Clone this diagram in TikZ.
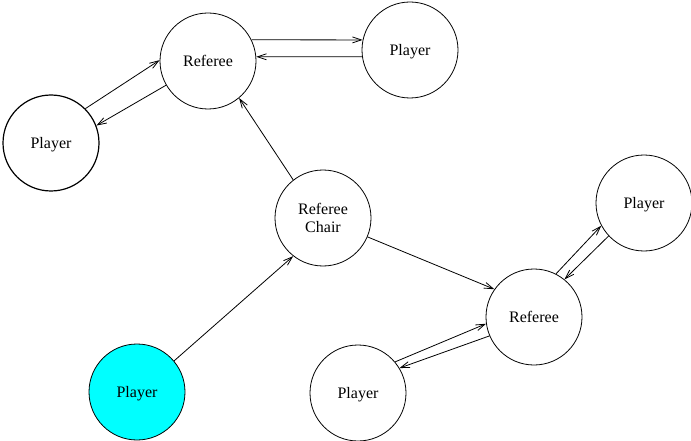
\documentclass[tikz,border=0pt]{standalone}
\usepackage{fontspec}
\setmainfont{Liberation Serif}
\usetikzlibrary{arrows.meta}

\definecolor{aqua}{RGB}{0,255,255}
\tikzset{
    party/.style = {draw, circle, minimum size = 96pt, inner sep = 0pt, align = center,
                    line width = 0.8pt, text depth = 0pt, font = \fontsize{16}{18}\selectfont},
    msg/.style = {line width = 0.8pt, -{Straight Barb[length = 9pt, width = 6pt]}}
}

\begin{document}
\begin{tikzpicture}[x = 1pt, y = -1pt]
        \useasboundingbox (0,0) rectangle (691,441);
        % the parties
        \node[party] (ref1) at (208,61) {Referee};
        \node[party] (ply1) at (410,50) {Player};
        \node[party, line width = 1.2pt] (ply2) at (51,143) {Player};
        \node[party] (chair) at (323,218) {Referee\\Chair};
        \node[party] (ply3) at (644,203) {Player};
        \node[party] (ref2) at (534,317) {Referee};
        \node[party] (ply4) at (358,393) {Player};
        \node[party, fill = aqua] (ply5) at (137,392) {Player};
        % messages
        \begin{scope}[every path/.append style = {msg}]
            \draw (ref1.26) -- (ply1.168);
            \draw (ply1.188) -- (ref1.5);
            \draw (ply2.45) -- (ref1.179);
            \draw (ref1.210) -- (ply2.21);
            \draw (chair.128) -- (ref1.310);
            \draw (ply5.40) -- (chair.232);
            \draw (chair.337) -- (ref2.145);
            \draw (ref2.63) -- (ply3.208);
            \draw (ply3.223) -- (ref2.51);
            \draw (ply4.40) -- (ref2.188);
            \draw (ref2.203) -- (ply4.31);
        \end{scope}
    \end{tikzpicture}
\end{document}
